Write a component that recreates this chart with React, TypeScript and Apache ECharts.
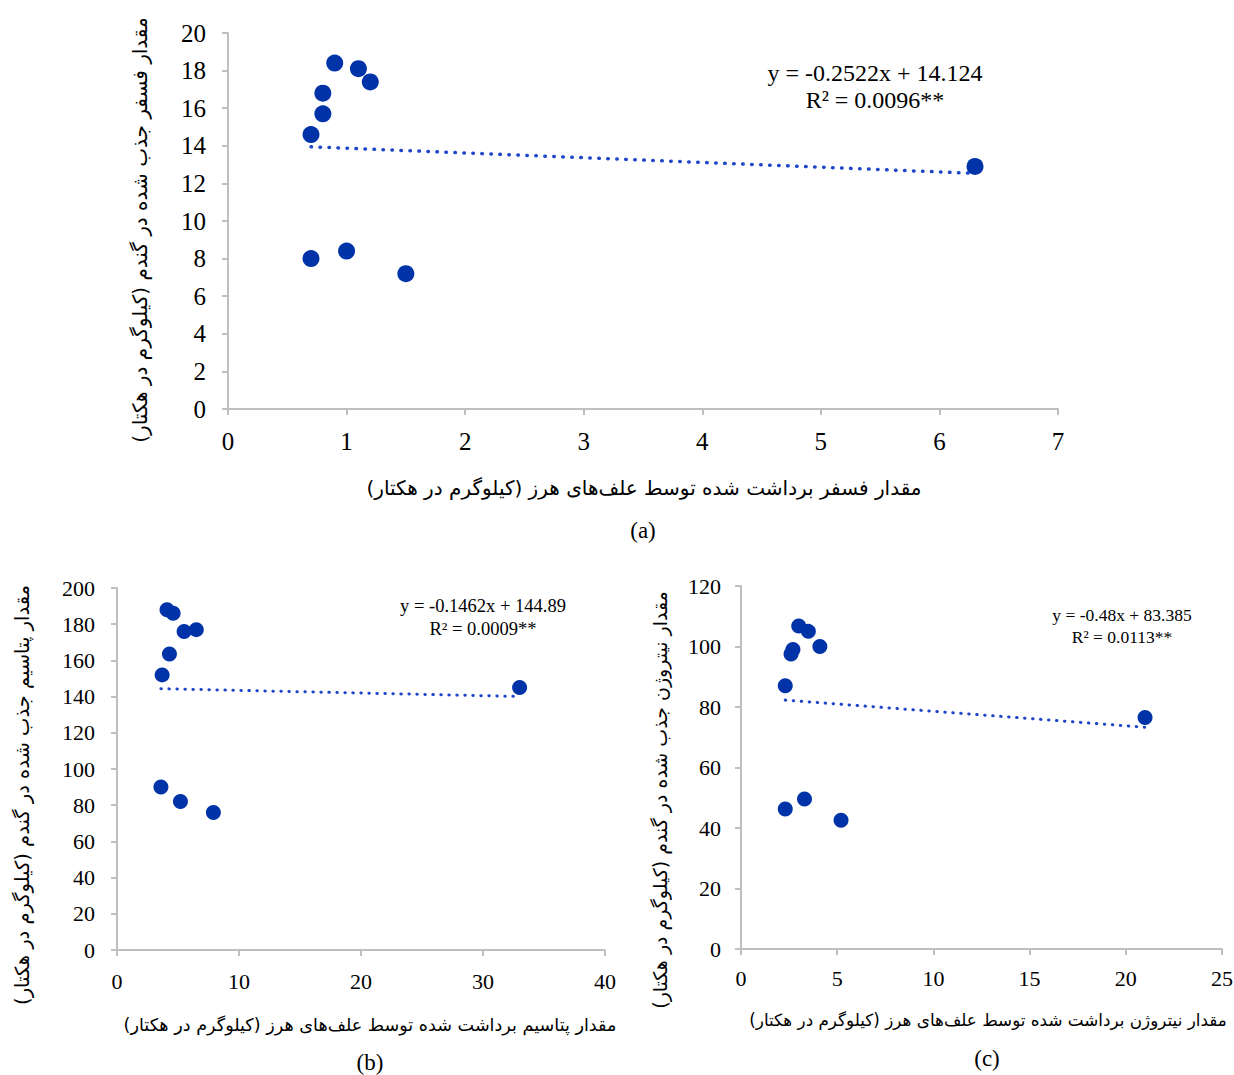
import React, { useEffect, useRef } from "react";
import * as echarts from "echarts";

const aX = [0.9, 1.1, 1.2, 0.8, 0.8, 0.7, 0.7, 1.0, 1.5, 6.3];
const aY = [18.4, 18.1, 17.4, 16.8, 15.7, 14.6, 8.0, 8.4, 7.2, 12.9];
const bX = [4.1, 4.6, 5.5, 6.5, 4.3, 3.7, 3.6, 5.2, 7.9, 33.0];
const bY = [188, 186, 176, 177, 163.5, 152, 90, 82, 76, 145];
const cX = [3.0, 3.5, 2.7, 2.6, 4.1, 2.3, 2.3, 3.3, 5.2, 21.0];
const cY = [106.8, 105, 99, 97.5, 100, 87, 46.3, 49.6, 42.6, 76.5];

const slopes = [-0.2522, -0.1462, -0.48];
const intercepts = [14.124, 144.89, 83.385];
const eqLines = [
  ["y = -0.2522x + 14.124", "R\u00B2 = 0.0096**"],
  ["y = -0.1462x + 144.89", "R\u00B2 = 0.0009**"],
  ["y = -0.48x + 83.385", "R\u00B2 = 0.0113**"],
];
const panelLabels = ["(a)", "(b)", "(c)"];
const RLM = "\u200F";
const xNames = [
  "مقدار فسفر برداشت شده توسط علف\u200Cهای هرز (کیلوگرم در هکتار)",
  "مقدار پتاسیم برداشت شده توسط علف\u200Cهای هرز (کیلوگرم در هکتار)",
  "مقدار نیتروژن برداشت شده توسط علف\u200Cهای هرز (کیلوگرم در هکتار)",
];
const yNames = [
  "مقدار فسفر جذب شده در گندم (کیلوگرم در هکتار)",
  "مقدار پتاسیم جذب شده در گندم (کیلوگرم در هکتار)",
  "مقدار نیتروژن جذب شده در گندم (کیلوگرم در هکتار)",
];
const xMax = [7, 40, 25];
const xInt = [1, 10, 5];
const yMax = [20, 200, 120];
const yInt = [2, 20, 20];

const SERIF = "'Liberation Serif', 'Times New Roman', 'DejaVu Sans', serif";
const PERSIAN = "'DejaVu Sans', 'Noto Sans', sans-serif";
const DOT = "#0033A8";
const TREND = "#1F45C8";
const AXIS = "#BFBFBF";

export default function App() {
  const ref = useRef<HTMLDivElement>(null);
  useEffect(() => {
    document.body.style.margin = "0";
    const chart = echarts.init(ref.current!, null, { renderer: "svg" });
    const grids = [
      { left: 228, top: 33, width: 830, height: 376, outerBoundsMode: "none", containLabel: false },
      { left: 117, top: 588, width: 488, height: 362, outerBoundsMode: "none", containLabel: false },
      { left: 741, top: 586, width: 481, height: 363, outerBoundsMode: "none", containLabel: false },
    ];
    const tickFont = [25, 22, 22];
    const xMargin = [20, 20, 18];
    const yMargin = [22, 22, 20];
    const xs = [aX, bX, cX];
    const ys = [aY, bY, cY];
    const xAxis: any[] = [];
    const yAxis: any[] = [];
    const series: any[] = [];
    for (let i = 0; i < 3; i++) {
      xAxis.push({
        type: "value",
        gridIndex: i,
        min: 0,
        max: xMax[i],
        interval: xInt[i],
        splitLine: { show: false },
        axisLine: { show: true, onZero: false, lineStyle: { color: AXIS, width: 2 } },
        axisTick: { show: true, length: 6, lineStyle: { color: AXIS, width: 2 } },
        axisLabel: { fontFamily: SERIF, fontSize: tickFont[i], color: "#000", margin: xMargin[i] },
      });
      yAxis.push({
        type: "value",
        gridIndex: i,
        min: 0,
        max: yMax[i],
        interval: yInt[i],
        splitLine: { show: false },
        axisLine: { show: true, onZero: false, lineStyle: { color: AXIS, width: 2 } },
        axisTick: { show: true, length: 6, lineStyle: { color: AXIS, width: 2 } },
        axisLabel: { fontFamily: SERIF, fontSize: tickFont[i], color: "#000", margin: yMargin[i] },
      });
      const pts = xs[i].map((x, k) => [x, ys[i][k]]);
      series.push({
        type: "scatter",
        xAxisIndex: i,
        yAxisIndex: i,
        data: pts,
        symbolSize: i === 0 ? 17 : 15,
        itemStyle: { color: DOT, opacity: 1 },
        z: 3,
      });
      const x0 = Math.min(...xs[i]);
      const x1 = Math.max(...xs[i]);
      series.push({
        type: "line",
        xAxisIndex: i,
        yAxisIndex: i,
        data: [
          [x0, slopes[i] * x0 + intercepts[i]],
          [x1, slopes[i] * x1 + intercepts[i]],
        ],
        showSymbol: false,
        symbol: "none",
        lineStyle: { color: TREND, width: i === 0 ? 3.5 : 3, type: [0.5, i === 0 ? 8.5 : 7.5], cap: "round" },
        z: 2,
      });
    }
    const eqPos = [
      [875, 73, 24, 27],
      [483, 606, 18.5, 23],
      [1122, 615, 17.5, 22],
    ];
    const labPos = [
      [643, 530],
      [370, 1062],
      [987, 1058],
    ];
    const xNamePos = [
      [644, 488, 20],
      [370, 1025, 17.6],
      [988, 1020, 16.8],
    ];
    const yNamePos = [
      [140, 230, 20],
      [22, 795, 19.5],
      [660, 800, 19],
    ];
    const graphic: any[] = [];
    for (let i = 0; i < 3; i++) {
      const [ex, ey, fs, lh] = eqPos[i];
      graphic.push({
        type: "text",
        x: ex,
        y: ey,
        style: { text: eqLines[i][0], font: `${fs}px ${SERIF}`, fill: "#000", textAlign: "center", textVerticalAlign: "middle" },
      });
      graphic.push({
        type: "text",
        x: ex,
        y: ey + lh,
        style: { text: eqLines[i][1], font: `${fs}px ${SERIF}`, fill: "#000", textAlign: "center", textVerticalAlign: "middle" },
      });
      graphic.push({
        type: "text",
        x: labPos[i][0],
        y: labPos[i][1],
        style: { text: panelLabels[i], font: `23px ${SERIF}`, fill: "#000", textAlign: "center", textVerticalAlign: "middle" },
      });
      graphic.push({
        type: "text",
        x: xNamePos[i][0],
        y: xNamePos[i][1],
        style: { text: RLM + xNames[i] + RLM, font: `${xNamePos[i][2]}px ${PERSIAN}`, fill: "#000", textAlign: "center", textVerticalAlign: "middle" },
      });
      graphic.push({
        type: "text",
        x: yNamePos[i][0],
        y: yNamePos[i][1],
        rotation: Math.PI / 2,
        style: { text: RLM + yNames[i] + RLM, font: `${yNamePos[i][2]}px ${PERSIAN}`, fill: "#000", textAlign: "center", textVerticalAlign: "middle" },
      });
    }
    chart.setOption({
      animation: false,
      backgroundColor: "#fff",
      grid: grids,
      xAxis,
      yAxis,
      series,
      graphic,
    });
    return () => chart.dispose();
  }, []);
  return <div ref={ref} style={{ width: 1234, height: 1075 }} />;
}
